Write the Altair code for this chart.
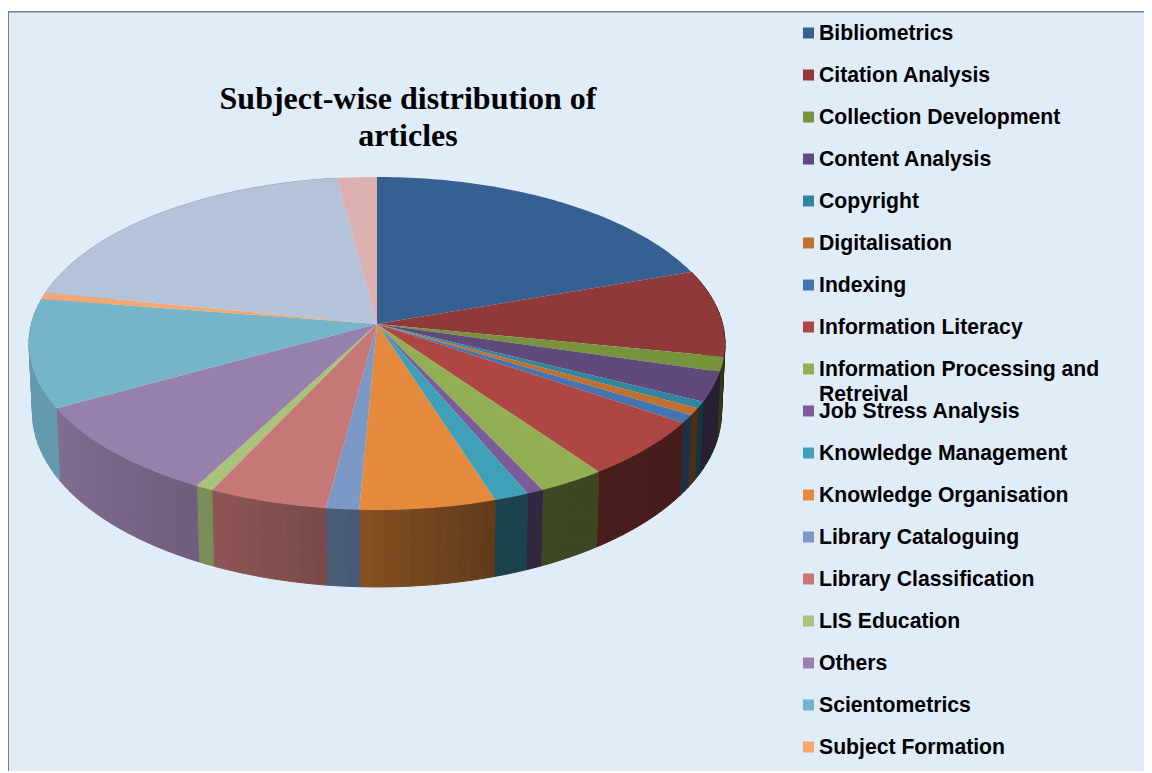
import altair as alt
import numpy as np

names = ["Bibliometrics", "Citation Analysis", "Collection Development", "Content Analysis",
         "Copyright", "Digitalisation", "Indexing", "Information Literacy",
         "Information Processing and Retreival", "Job Stress Analysis", "Knowledge Management",
         "Knowledge Organisation", "Library Cataloguing", "Library Classification",
         "LIS Education", "Others", "Scientometrics", "Subject Formation",
         "(unlabelled slice A)", "(unlabelled slice B)"]
values = [19.67, 8.44, 1.42, 2.86, 0.64, 0.69, 0.78, 5.64, 2.81, 0.69, 1.44, 5.64, 1.36, 4.94,
          0.72, 9.22, 10.5, 0.65, 19.82, 2.06]
colors = ["#376092", "#8f3a38", "#77933c", "#604a7b", "#31859c", "#c1702f", "#4475b0", "#ae4643",
          "#93ae53", "#7a5c9a", "#40a0b8", "#e58a3d", "#7b98c6", "#c57875", "#a9c37a", "#9880ac",
          "#74b5cb", "#f5a76f", "#b4c3da", "#dcb0ae"]
legend_labels = ["Bibliometrics", "Citation Analysis", "Collection Development", "Content Analysis",
                 "Copyright", "Digitalisation", "Indexing", "Information Literacy",
                 "Information Processing and|Retreival", "Job Stress Analysis", "Knowledge Management",
                 "Knowledge Organisation", "Library Cataloguing", "Library Classification",
                 "LIS Education", "Others", "Scientometrics", "Subject Formation"]
title_lines = ["Subject-wise distribution of", "articles"]

W, H = 1136, 765
# perspective disc geometry (view pixels)
CX, CY, RX, RY, K, DEPTH = 369.0, 316.0, 345.6, 164.2, 0.117, 68.0
SHADE_A = [100, 162, 182, 205, 241, 285]
SHADE_F = [0.40, 0.42, 0.58, 0.72, 0.85, 0.85]


def top(deg):
    t = np.radians(deg)
    w = 1 + K * np.cos(t)
    return CX + RX * np.sin(t) / w, CY - RY * np.cos(t) / w


def bottom(deg):
    t = np.radians(deg)
    w = 1 + K * np.cos(t)
    return CX + 0.99 * RX * np.sin(t) / w, CY - RY * np.cos(t) / w + DEPTH / w


def shade(hex_color, f):
    rgb = [int(hex_color[i:i + 2], 16) for i in (1, 3, 5)]
    return "#%02x%02x%02x" % tuple(int(round(c * f)) for c in rgb)


def feature(ring, **props):
    ring = [[float(x), float(y)] for x, y in ring]
    ring.append(ring[0])
    return {"type": "Feature", "properties": props,
            "geometry": {"type": "Polygon", "coordinates": [ring]}}


total = sum(values)
edges = np.concatenate([[0], np.cumsum(values)]) / total * 360
top_feats, side_feats = [], []
for name, col, a0, a1 in zip(names, colors, edges[:-1], edges[1:]):
    n = max(2, int(np.ceil(a1 - a0)))
    angs = np.linspace(a0, a1, n + 1)
    top_feats.append(feature([(CX, CY)] + [top(a) for a in angs], name=name))
    if a1 > 85 and a0 < 285:
        m = max(1, int(np.ceil((a1 - a0) / 2.0)))
        sa = np.linspace(a0, a1, m + 1)
        for s0, s1 in zip(sa[:-1], sa[1:]):
            f = float(np.interp((s0 + s1) / 2, SHADE_A, SHADE_F))
            side_feats.append(feature([top(s0), top(s1), bottom(s1), bottom(s0)], c=shade(col, f)))

fill_scale = alt.Scale(domain=names, range=colors)


def geo(feats):
    return alt.Data(values={"type": "FeatureCollection", "features": feats},
                    format=alt.DataFormat(type="json", property="features"))


one = alt.Data(values=[{"a": 1}])
panel = alt.Chart(one).mark_rect(color="#e1ecf9").encode(
    x=alt.value(0), x2=alt.value(W), y=alt.value(3), y2=alt.value(763))
frame_l = alt.Chart(one).mark_rule(color="#808080", strokeWidth=2).encode(
    x=alt.value(0), y=alt.value(3), y2=alt.value(763))
frame_t = alt.Chart(one).mark_rule(color="#808080", strokeWidth=1.5).encode(
    y=alt.value(3.7), x=alt.value(0), x2=alt.value(W))

sides = alt.Chart(geo(side_feats)).mark_geoshape(strokeWidth=1).encode(
    fill=alt.Fill("properties.c:N", scale=None),
    stroke=alt.Stroke("properties.c:N", scale=None),
).project(type="identity", scale=1, translate=[0, 0])

slices = alt.Chart(geo(top_feats)).mark_geoshape(strokeWidth=0).encode(
    fill=alt.Fill("properties.name:N", scale=fill_scale, legend=None),
).project(type="identity", scale=1, translate=[0, 0])

legend_rows = [{"name": n, "label": l} for n, l in zip(names, legend_labels)]
row_y = alt.Y("name:N", sort=names[:18], axis=None,
              scale=alt.Scale(domain=names[:18], range=[25, 739], padding=0))
swatches = alt.Chart(alt.Data(values=legend_rows)).mark_square(size=121, opacity=1).encode(
    x=alt.value(800.5), y=row_y,
    fill=alt.Fill("name:N", scale=fill_scale, legend=None))
labels = alt.Chart(alt.Data(values=legend_rows)).mark_text(
    font="Liberation Sans", fontWeight="bold", fontSize=21.2, color="black",
    align="left", baseline="alphabetic", dy=7, lineBreak="|", lineHeight=25).encode(
    x=alt.value(811), y=row_y, text="label:N")

title = alt.Chart(alt.Data(values=[{"t": "|".join(title_lines)}])).mark_text(
    font="Liberation Serif", fontWeight="bold", fontSize=32, color="black",
    align="center", baseline="alphabetic", lineBreak="|", lineHeight=37).encode(
    x=alt.value(400), y=alt.value(101), text="t:N")

chart = alt.layer(
    panel, frame_l, frame_t, sides, slices, swatches, labels, title
).resolve_scale(fill="independent", stroke="independent").properties(
    width=W, height=H, padding=0, background="white", autosize=alt.AutoSizeParams(type="none")
).configure_view(stroke=None)

chart.save("out.html", embed_options={"renderer": "svg", "actions": False})
